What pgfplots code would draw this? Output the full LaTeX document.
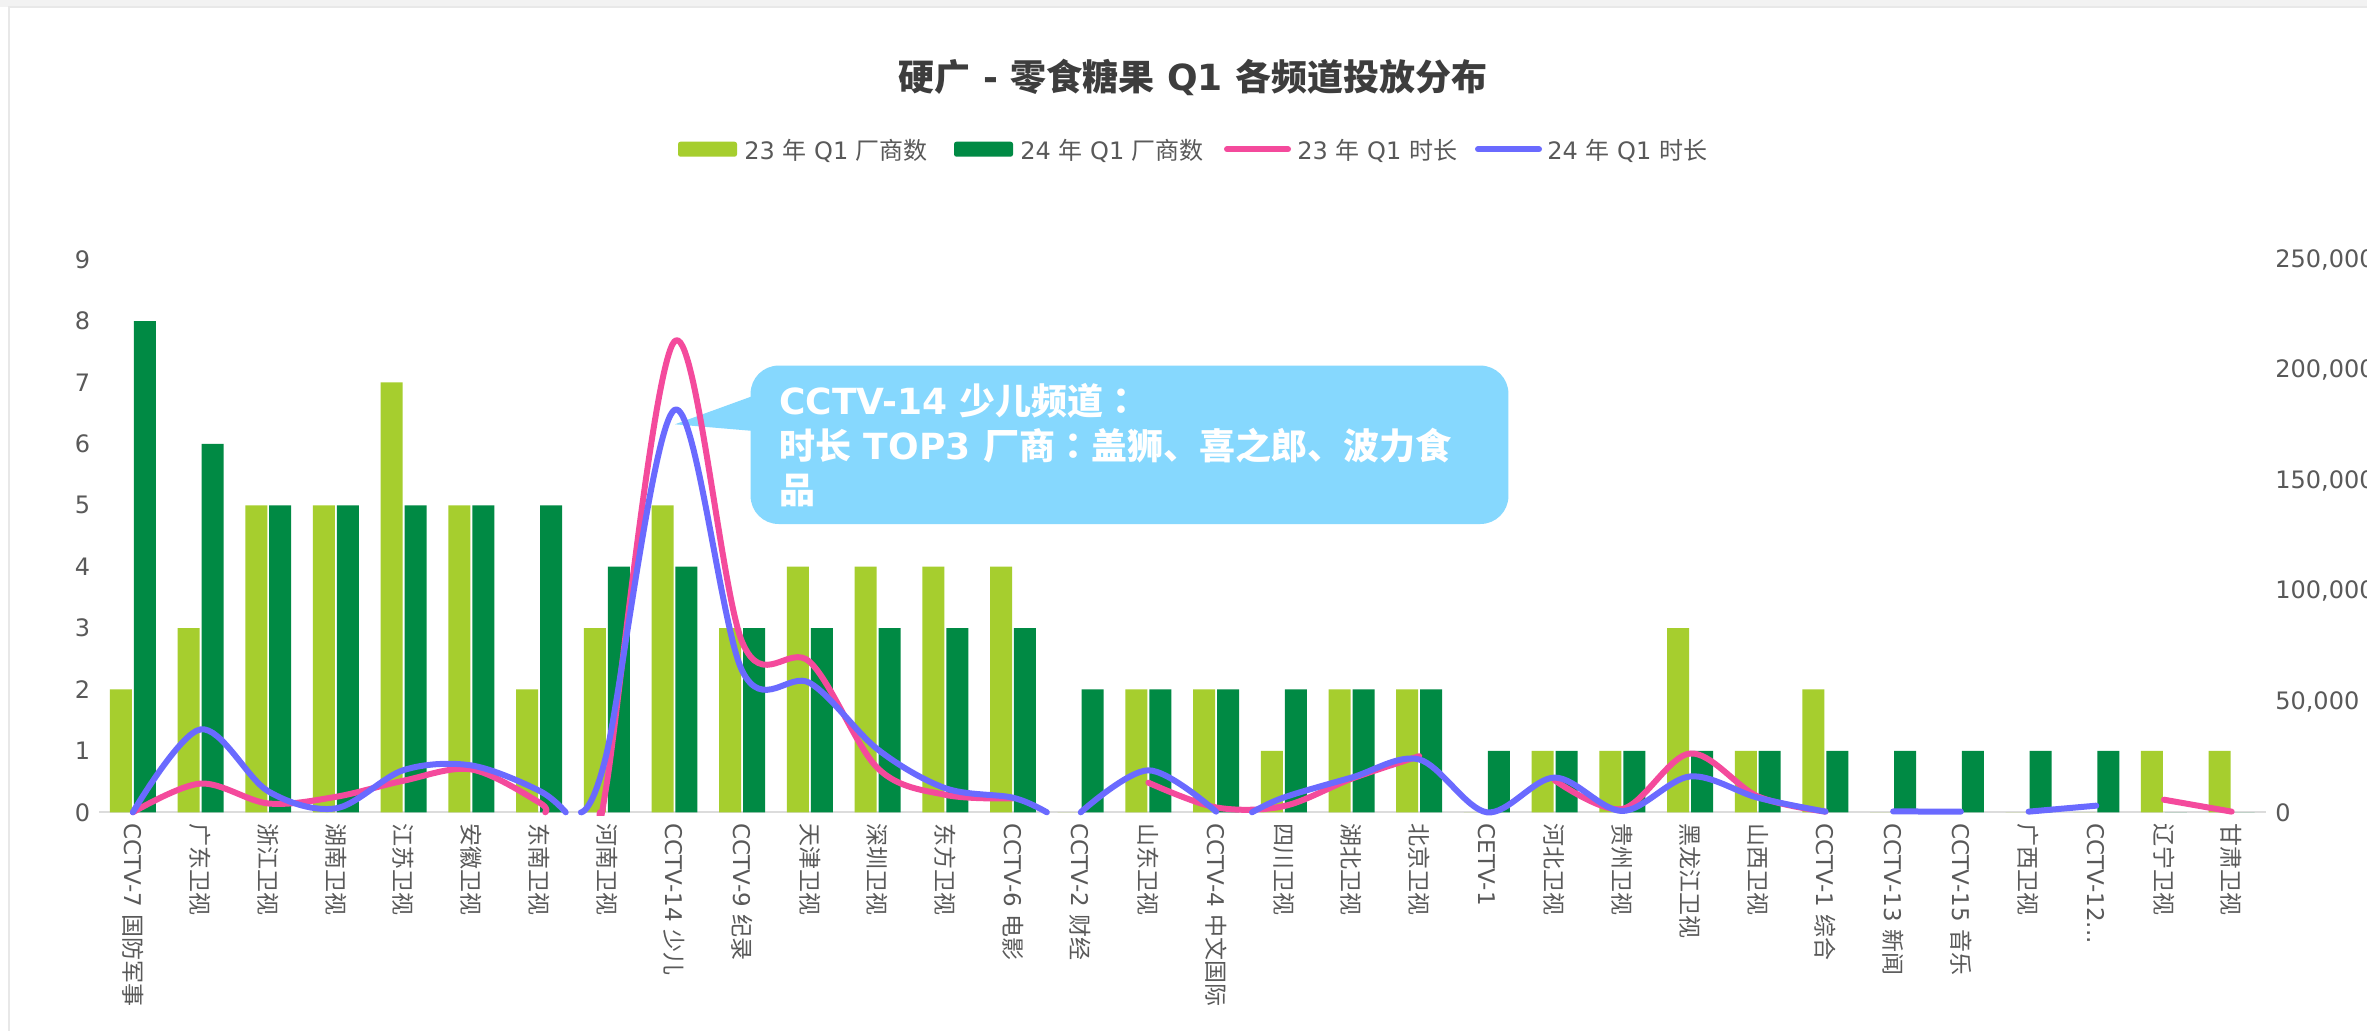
\documentclass[border=0pt]{standalone}
\usepackage{fontspec}
\setmainfont{DejaVu Sans}
\newfontfamily\cjk{Noto Sans CJK SC}
\newfontfamily\cjkjp{Noto Sans CJK JP}
\usepackage{pgfplots}
\pgfplotsset{compat=1.18}
\definecolor{lg}{HTML}{A6CE2E}
\definecolor{dg}{HTML}{008A44}
\definecolor{pk}{HTML}{F44A9C}
\definecolor{bl}{HTML}{6A6AFF}
\definecolor{call}{HTML}{86D8FE}
\definecolor{tk}{HTML}{595959}
\definecolor{ttl}{HTML}{3D3D3D}
\definecolor{axgray}{HTML}{DCDCDC}
\begin{document}
\begin{tikzpicture}
% page / card
\fill[white] (0pt,0pt) rectangle (1183.5pt,515pt);
\fill[black!5] (0pt,511.5pt) rectangle (1183.5pt,515pt);
\draw[black!9, line width=0.8pt] (4.5pt,-5pt) -- (4.5pt,511.5pt) -- (1190pt,511.5pt);

% title
\node[anchor=base, inner sep=0pt, text=ttl, font=\bfseries\fontsize{18}{22}\selectfont]
  at (596.6pt,469.5pt) {{\cjk 硬广} - {\cjk 零食糖果} Q1 {\cjk 各频道投放分布}};

% legend
\fill[lg, rounded corners=1.2pt] (339pt,436.65pt) rectangle (368.5pt,444.15pt);
\node[anchor=base west, inner sep=0pt, text=tk, font=\fontsize{12}{14}\selectfont]
  at (372pt,435pt) {23 {\cjk 年} Q1 {\cjk 厂商数}};
\fill[dg, rounded corners=1.2pt] (477pt,436.65pt) rectangle (506.5pt,444.15pt);
\node[anchor=base west, inner sep=0pt, text=tk, font=\fontsize{12}{14}\selectfont]
  at (510pt,435pt) {24 {\cjk 年} Q1 {\cjk 厂商数}};
\draw[pk, line width=3pt, line cap=round] (613.5pt,440.4pt) -- (644pt,440.4pt);
\node[anchor=base west, inner sep=0pt, text=tk, font=\fontsize{12}{14}\selectfont]
  at (648.5pt,435pt) {23 {\cjk 年} Q1 {\cjk 时长}};
\draw[bl, line width=3pt, line cap=round] (739pt,440.4pt) -- (769.5pt,440.4pt);
\node[anchor=base west, inner sep=0pt, text=tk, font=\fontsize{12}{14}\selectfont]
  at (773.5pt,435pt) {24 {\cjk 年} Q1 {\cjk 时长}};

% bars (left axis)
\begin{axis}[
  at={(49.5pt,108.85pt)}, anchor=south west,
  scale only axis, width=1083.3pt, height=276.35pt,
  xmin=-0.5, xmax=31.5, ymin=0, ymax=9,
  axis x line*=bottom, axis y line*=left,
  x axis line style={-, draw=axgray, line width=1pt},
  y axis line style={draw=none},
  major tick length=0pt, tick style={draw=none},
  /pgf/number format/assume math mode=true,
  ytick={0,1,2,3,4,5,6,7,8,9},
  y tick label style={font=\fontsize{12}{14}\selectfont, text=tk, inner sep=0pt, xshift=-4.2pt},
  xtick={0,1,2,3,4,5,6,7,8,9,10,11,12,13,14,15,16,17,18,19,20,21,22,23,24,25,26,27,28,29,30,31},
  x tick label style={font=\fontsize{11.5}{13}\selectfont, text=tk, inner sep=0pt, yshift=-5.5pt, rotate=-90, anchor=west},
  xticklabels={
    {CCTV-7 {\cjk 国防军事}},
    {{\cjk 广东卫视}},
    {{\cjk 浙江卫视}},
    {{\cjk 湖南卫视}},
    {{\cjk 江苏卫视}},
    {{\cjk 安徽卫视}},
    {{\cjk 东南卫视}},
    {{\cjk 河南卫视}},
    {CCTV-14 {\cjk 少儿}},
    {CCTV-9 {\cjk 纪录}},
    {{\cjk 天津卫视}},
    {{\cjk 深圳卫视}},
    {{\cjk 东方卫视}},
    {CCTV-6 {\cjk 电影}},
    {CCTV-2 {\cjk 财经}},
    {{\cjk 山东卫视}},
    {CCTV-4 {\cjk 中文国际}},
    {{\cjk 四川卫视}},
    {{\cjk 湖北卫视}},
    {{\cjk 北京卫视}},
    {CETV-1},
    {{\cjk 河北卫视}},
    {{\cjk 贵州卫视}},
    {{\cjk 黑龙江卫视}},
    {{\cjk 山西卫视}},
    {CCTV-1 {\cjk 综合}},
    {CCTV-13 {\cjk 新闻}},
    {CCTV-15 {\cjk 音乐}},
    {{\cjk 广西卫视}},
    {CCTV-12{.}{.}{.}},
    {{\cjk 辽宁卫视}},
    {{\cjk 甘肃卫视}}
  },
]
\addplot[ybar, bar width=0.325, bar shift=-0.177, fill=lg, draw=none] coordinates {
 (0,2) (1,3) (2,5) (3,5) (4,7) (5,5) (6,2) (7,3) (8,5) (9,3) (10,4) (11,4) (12,4) (13,4)
 (14,0) (15,2) (16,2) (17,1) (18,2) (19,2) (20,0) (21,1) (22,1) (23,3) (24,1) (25,2)
 (26,0) (27,0) (28,0) (29,0) (30,1) (31,1)};
\addplot[ybar, bar width=0.325, bar shift=0.177, fill=dg, draw=none] coordinates {
 (0,8) (1,6) (2,5) (3,5) (4,5) (5,5) (6,5) (7,4) (8,4) (9,3) (10,3) (11,3) (12,3) (13,3)
 (14,2) (15,2) (16,2) (17,2) (18,2) (19,2) (20,1) (21,1) (22,1) (23,1) (24,1) (25,1)
 (26,1) (27,1) (28,1) (29,1) (30,0) (31,0)};
\end{axis}

% callout
\fill[call, rounded corners=14pt] (375.3pt,253pt) rectangle (754.2pt,332.2pt);
\fill[call] (381pt,318.65pt) -- (337.5pt,302.85pt) -- (381pt,299.15pt) -- cycle;
\node[anchor=base west, inner sep=0pt, text=white, font=\bfseries\fontsize{18}{22}\selectfont]
  at (389.5pt,307.5pt) {CCTV-14 {\cjk 少儿频道}{\cjkjp ：}};
\node[anchor=base west, inner sep=0pt, text=white, font=\bfseries\fontsize{18}{22}\selectfont]
  at (389.5pt,285.35pt) {{\cjk 时长} TOP3 {\cjk 厂商}{\cjkjp ：}{\cjk 盖狮、喜之郎、波力食}};
\node[anchor=base west, inner sep=0pt, text=white, font=\bfseries\fontsize{18}{22}\selectfont]
  at (389.5pt,263.2pt) {{\cjk 品}};

% lines (right axis)
\begin{axis}[
  at={(49.5pt,107.348pt)}, anchor=south west,
  scale only axis, width=1083.3pt, height=277.852pt,
  xmin=-0.5, xmax=31.5, ymin=-1359, ymax=250000,
  axis x line=none, axis y line*=right,
  y axis line style={draw=none},
  major tick length=0pt, tick style={draw=none},
  scaled y ticks=false,
  /pgf/number format/assume math mode=true,
  /pgf/number format/fixed,
  /pgf/number format/1000 sep={,},
  ytick={0,50000,100000,150000,200000,250000},
  y tick label style={font=\fontsize{12}{14}\selectfont, text=tk, inner sep=0pt, xshift=4.7pt},
  every axis plot/.append style={smooth, tension=0.55, line width=3pt, line cap=round, line join=round},
]
% 23 Q1 duration
\addplot[pk] coordinates {(0,0) (1,13000) (2,4000) (3,7000) (4,14300) (5,19400) (6,4500) (6.091,0)};
\addplot[pk] coordinates {(6.898,0) (7,13000) (8,213000) (9,77000) (10,68000) (11,20000) (12,7900) (13,6300)};
\addplot[pk] coordinates {(15,13400) (16,2200) (17,2800) (18,15200) (19,25400)};
\addplot[pk] coordinates {(21,14500) (22,1500) (23,26600) (24,7200) (25,300)};
\addplot[pk] coordinates {(30,5700) (31,300)};
% 24 Q1 duration
\addplot[bl] coordinates {(0,0) (1,37500) (2,9500) (3,1800) (4,19100) (5,21200) (6,9800) (6.394,0)};
\addplot[bl] coordinates {(6.618,0) (7,27000) (8,182000) (9,64000) (10,58500) (11,28500) (12,10900) (13,6600) (13.5,0)};
\addplot[bl] coordinates {(14,0) (15,19000) (16,300)};
\addplot[bl] coordinates {(16.53,0) (17,6700) (18,15700) (19,23900) (20,0) (21,15700) (22,600) (23,16200) (24,6600) (25,300)};
\addplot[bl] coordinates {(26,400) (27,300)};
\addplot[bl] coordinates {(28,300) (29,3000)};
\end{axis}

\pgfresetboundingbox
\useasboundingbox (0pt,0pt) rectangle (1183.5pt,515pt);
\end{tikzpicture}
\end{document}
